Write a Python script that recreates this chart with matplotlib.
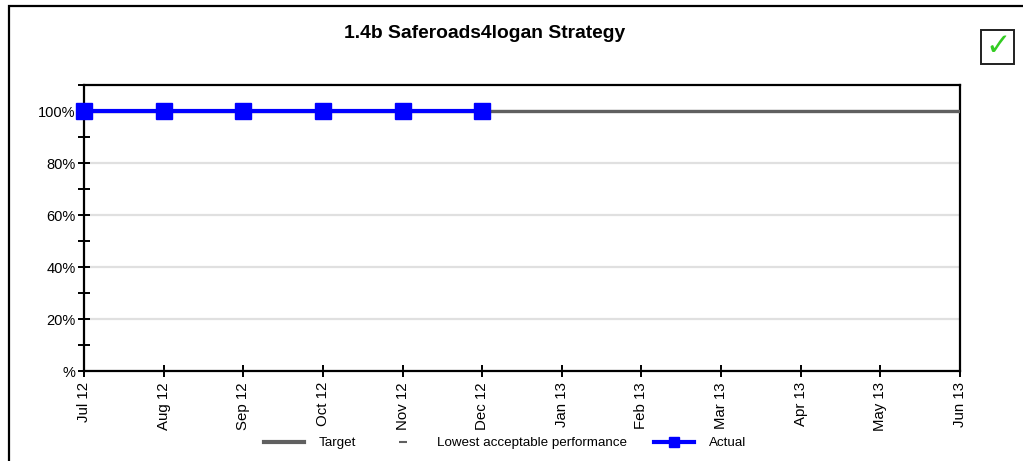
import matplotlib
matplotlib.use("Agg")
import matplotlib.pyplot as plt
from matplotlib.lines import Line2D
from matplotlib.patches import Rectangle

plt.rcParams['font.family'] = ['Liberation Sans', 'DejaVu Sans']

# Data
months = ["Jul 12", "Aug 12", "Sep 12", "Oct 12", "Nov 12", "Dec 12",
          "Jan 13", "Feb 13", "Mar 13", "Apr 13", "May 13", "Jun 13"]
target = [100, 100, 100, 100, 100, 100, 100, 100, 100, 100, 100, 100]
actual = [100, 100, 100, 100, 100, 100]
y_ticks = [0, 20, 40, 60, 80, 100]
y_labels = ["%", "20%", "40%", "60%", "80%", "100%"]

W, H = 1023, 461
fig = plt.figure(figsize=(W / 100, H / 100), dpi=100)

# outer frame (only left/top visible)
fig.patches.append(Rectangle((8.5 / W, -0.2), 1.2, 1.2 - 5.5 / H,
                             transform=fig.transFigure, fill=False,
                             edgecolor="black", linewidth=1.6))

ax = fig.add_axes([84 / W, 1 - 371 / H, (960 - 84) / W, (371 - 85) / H])

x_all = list(range(len(months)))
ax.plot(x_all, target, color="#606060", linewidth=2.4, zorder=3)
ax.plot(x_all[:len(actual)], actual, color="#0000ff", linewidth=3,
        marker="s", markersize=11, zorder=4, clip_on=False)

ax.set_xlim(0, len(months) - 1)
ax.set_ylim(0, 110)
ax.set_xticks(x_all)
ax.set_xticklabels(months, rotation=90, fontsize=10.8)
ax.set_yticks(y_ticks)
ax.set_yticklabels(y_labels, fontsize=10.5)
ax.set_yticks([10, 30, 50, 70, 90, 110], minor=True)
ax.tick_params(axis="both", which="both", direction="inout", length=8,
               width=1.4, color="black", pad=2)
ax.tick_params(axis="x", pad=4)
ax.grid(axis="y", which="major", color="#e0e0e0", linewidth=1.6, zorder=0)
ax.set_axisbelow(True)
for s in ax.spines.values():
    s.set_linewidth(1.6)
    s.set_color("black")

fig.text(485 / W, 1 - 33 / H, "1.4b Saferoads4logan Strategy", ha="center",
         va="center", fontsize=13.9, fontweight="bold")

# status check box
fig.patches.append(Rectangle((981 / W, 1 - 64 / H), 33 / W, 34 / H,
                             transform=fig.transFigure, facecolor="white",
                             edgecolor="#202020", linewidth=1.4))
fig.text(998 / W, 1 - 47 / H, "\u2713", ha="center", va="center",
         fontsize=22, color="#33cc22", fontweight="bold", family="DejaVu Sans")

handles = [
    Line2D([], [], color="#606060", linewidth=3),
    Line2D([], [], color="#606060", marker="_", linestyle="none", markersize=6,
           markeredgewidth=1.5),
    Line2D([], [], color="#0000ff", linewidth=3, marker="s", markersize=7),
]
fig.legend(handles, ["Target", "Lowest acceptable performance", "Actual"],
           loc="center", bbox_to_anchor=(505 / W, 1 - 443 / H), ncol=3,
           frameon=False, fontsize=9.6, handlelength=3.0, handletextpad=1.1,
           columnspacing=2.0)

fig.savefig("out.png", dpi=100)
